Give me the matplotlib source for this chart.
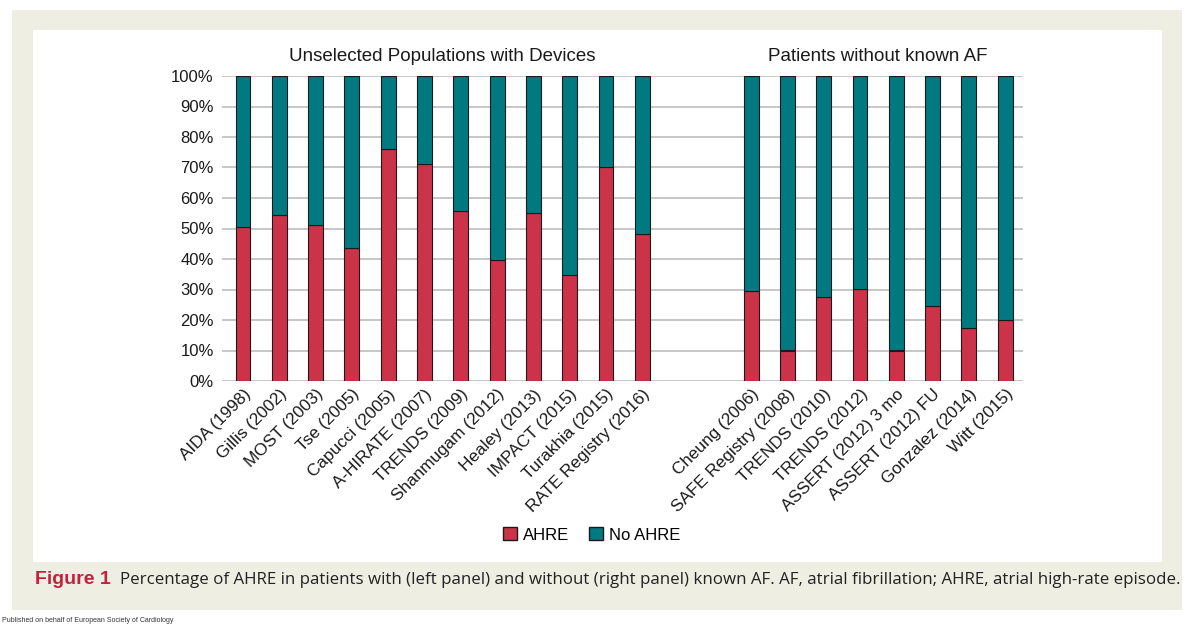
import matplotlib.pyplot as plt
from matplotlib.patches import Rectangle, Patch
import numpy as np

plt.rcParams['font.family'] = ['Liberation Sans', 'DejaVu Sans']

# data
with_af = ['AIDA (1998)', 'Gillis (2002)', 'MOST (2003)', 'Tse (2005)', 'Capucci (2005)',
           'A-HIRATE (2007)', 'TRENDS (2009)', 'Shanmugam (2012)', 'Healey (2013)',
           'IMPACT (2015)', 'Turakhia (2015)', 'RATE Registry (2016)']
with_af_ahre = [50.5, 54.3, 51.1, 43.7, 76.1, 71.0, 55.7, 39.7, 55.2, 34.7, 70.0, 48.3]

without_af = ['Cheung (2006)', 'SAFE Registry (2008)', 'TRENDS (2010)', 'TRENDS (2012)',
              'ASSERT (2012) 3 mo', 'ASSERT (2012) FU', 'Gonzalez (2014)', 'Witt (2015)']
without_af_ahre = [29.4, 10.0, 27.4, 30.3, 10.0, 24.6, 17.3, 20.0]

panel_titles = ['Unselected Populations with Devices', 'Patients without known AF']
yticks = [0, 10, 20, 30, 40, 50, 60, 70, 80, 90, 100]

red = '#CC3349'
teal = '#007A80'
beige = '#EFEEE3'

W, H = 1200, 627
fig = plt.figure(figsize=(12, 6.27), dpi=100)

def fx(px):
    return px / W

def fy(py):
    return 1 - py / H

# frame
fig.patches.append(Rectangle((fx(12), fy(610)), fx(1182) - fx(12), fy(10) - fy(610),
                             transform=fig.transFigure, facecolor=beige, edgecolor='none', zorder=-3))
fig.patches.append(Rectangle((fx(33), fy(562)), fx(1162) - fx(33), fy(30) - fy(562),
                             transform=fig.transFigure, facecolor='white', edgecolor='none', zorder=-2))

ax = fig.add_axes([fx(222), fy(381), fx(1023) - fx(222), fy(76) - fy(381)])
ax.set_facecolor('none')
ax.set_zorder(1)

gap = 2
x1 = np.arange(len(with_af))
x2 = np.arange(len(without_af)) + len(with_af) + gap
xs = np.concatenate([x1, x2])
labels = with_af + without_af
ahre = np.array(with_af_ahre + without_af_ahre)
no_ahre = 100 - ahre

bw = 0.41
ax.bar(xs, ahre, bw, color=red, edgecolor='#1a1a1a', linewidth=0.8, zorder=3)
ax.bar(xs, no_ahre, bw, bottom=ahre, color=teal, edgecolor='#1a1a1a', linewidth=0.8, zorder=3)

ax.set_xlim(-0.58, xs[-1] + 0.49)
ax.set_ylim(0, 100)
ax.set_yticks(yticks)
ax.set_yticklabels([f'{v}%' for v in yticks], fontsize=12, color='#1a1a1a')
ax.yaxis.grid(True, color='#BDBDBD', linewidth=1.2, zorder=0)
ax.set_axisbelow(True)
for s in ax.spines.values():
    s.set_visible(False)
ax.tick_params(axis='both', length=0, pad=6)
ax.set_xticks(xs)
ax.set_xticklabels(labels, rotation=45, ha='right', rotation_mode='anchor',
                   fontsize=12.3, color='#1a1a1a')
ax.tick_params(axis='x', pad=4)

ax.text(x1.mean(), 103.5, panel_titles[0], ha='center', va='bottom', fontsize=13.5, color='#1a1a1a')
ax.text(x2.mean(), 103.5, panel_titles[1], ha='center', va='bottom', fontsize=13.5, color='#1a1a1a')

handles = [Patch(facecolor=red, edgecolor='#1a1a1a', label='AHRE'),
           Patch(facecolor=teal, edgecolor='#1a1a1a', label='No AHRE')]
fig.legend(handles=handles, loc='center', bbox_to_anchor=(fx(592), fy(535)), ncol=2,
           frameon=False, fontsize=12, handlelength=0.8, handleheight=0.8,
           handletextpad=0.4, columnspacing=1.2)

# caption
t1 = fig.text(fx(35), fy(580), 'Figure 1', fontsize=14, fontweight='bold',
              color='#C4213F', va='center', ha='left')
cap = ('Percentage of AHRE in patients with (left panel) and without (right panel) known AF. '
       'AF, atrial fibrillation; AHRE, atrial high-rate episode.')
t2 = fig.text(fx(120), fy(580), cap, fontsize=12, color='#222222', va='center', ha='left',
              family=['Open Sans', 'DejaVu Sans'])
r = fig.canvas.get_renderer()
w = t2.get_window_extent(r).width
t2.set_fontsize(12 * (1174 - 120) / w)

fig.text(fx(2), fy(620), 'Published on behalf of European Society of Cardiology',
         fontsize=5, color='#333333', va='center', ha='left')

fig.savefig('out.png', dpi=100, facecolor='white')
